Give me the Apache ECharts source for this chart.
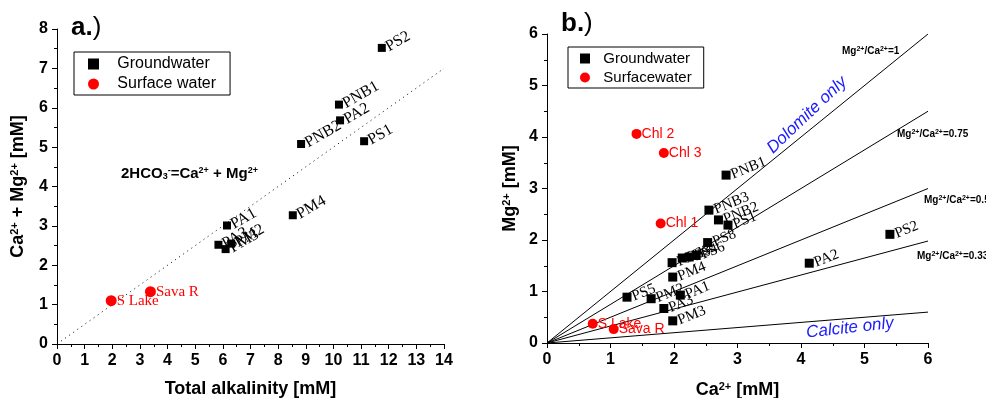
<!DOCTYPE html>
<html>
<head>
<meta charset="utf-8">
<script src="https://cdn.jsdelivr.net/npm/echarts@6/dist/echarts.min.js"></script>
<style>
  html, body { margin: 0; background: #fff; }
  #chart { width: 986px; height: 398px; }
</style>
</head>
<body>
<div id="chart"></div>
<script>
// panel a.) total alkalinity vs Ca2+ + Mg2+
const gwNamesA = ['PS2', 'PNB1', 'PA2', 'PNB2', 'PS1', 'PM4', 'PA1', 'PA3', 'PM3', 'PM2']
const gwAlkA = [11.75, 10.2, 10.24, 8.83, 11.11, 8.53, 6.15, 5.84, 6.1, 6.3]
const gwCaMgA = [7.52, 6.08, 5.68, 5.08, 5.15, 3.27, 3.01, 2.52, 2.41, 2.55]
const swNamesA = ['S Lake', 'Sava R']
const swAlkA = [1.96, 3.38]
const swCaMgA = [1.1, 1.33]
const eqLineA = [[0, 0], [14, 7]] // 2HCO3- = Ca + Mg

// panel b.) Ca2+ vs Mg2+
const gwNamesB = ['PNB1', 'PNB3', 'PNB2', 'PS1', 'PS8', 'PM1', 'PS3', 'PS4', 'PS6',
  'PM4', 'PS5', 'PM2', 'PA1', 'PA3', 'PM3', 'PS2', 'PA2']
const gwCaB = [2.82, 2.55, 2.70, 2.85, 2.53, 1.97, 2.13, 2.24, 2.35,
  1.98, 1.26, 1.64, 2.10, 1.84, 1.98, 5.40, 4.13]
const gwMgB = [3.26, 2.58, 2.39, 2.29, 1.95, 1.56, 1.65, 1.67, 1.70,
  1.28, 0.89, 0.86, 0.93, 0.67, 0.43, 2.11, 1.55]
const swNamesB = ['Chl 2', 'Chl 3', 'Chl 1', 'S Lake', 'Sava R']
const swCaB = [1.41, 1.84, 1.79, 0.72, 1.05]
const swMgB = [4.06, 3.69, 2.32, 0.375, 0.27]
const ratiosB = [1, 0.75, 0.5, 0.33, 0.1]
const ratioLabelsB = ['1', '0.75', '0.5', '0.33']

const SANS = 'Liberation Sans'
const SERIF = 'Liberation Serif'

const pts = (names, xs, ys) => names.map((n, i) => ({ name: n, value: [xs[i], ys[i]] }))

const supRich = (size) => ({
  n: { fontSize: size, fontWeight: 'bold', fontFamily: SANS, color: '#000' },
  s: { fontSize: Math.round(size * 0.6), fontWeight: 'bold', fontFamily: SANS, color: '#000', verticalAlign: 'top' },
  d: { fontSize: Math.round(size * 0.6), fontWeight: 'bold', fontFamily: SANS, color: '#000', verticalAlign: 'bottom' },
})

const axisBase = (min, max) => ({
  type: 'value',
  min,
  max,
  interval: 1,
  axisLine: { show: true, lineStyle: { color: '#000', width: 1 } },
  axisTick: { show: true, inside: false, length: 5, lineStyle: { color: '#000' } },
  minorTick: { show: true, splitNumber: 2, length: 3, lineStyle: { color: '#000' } },
  splitLine: { show: false },
  axisLabel: { fontFamily: SANS, fontWeight: 'bold', fontSize: 16, color: '#000', margin: 9 },
  nameLocation: 'middle',
})

const lineLabel = (r) => '{a|Mg}{s|2+}{a|/Ca}{s|2+}{a|=' + r + '}'
const smallRich = {
  a: { fontSize: 10, fontFamily: SANS, fontWeight: 'bold', color: '#000' },
  s: { fontSize: 7, fontFamily: SANS, fontWeight: 'bold', color: '#000', verticalAlign: 'top' },
}
const ratioLabelPos = [[842, 51], [897, 134], [924, 200], [917, 256]]

const chart = echarts.init(document.getElementById('chart'))

const titleRich = {
  b: { fontSize: 26, fontWeight: 'bold', fontFamily: SANS, color: '#000' },
  n: { fontSize: 26, fontWeight: 'normal', fontFamily: SANS, color: '#000' },
}

const options = {
  backgroundColor: '#fff',
  animation: false,
  title: [
    { text: '{b|a.}{n|)}', left: 66, top: 10, textStyle: { rich: titleRich } },
    { text: '{b|b.}{n|)}', left: 556, top: 6, textStyle: { rich: titleRich } },
  ],
  legend: [
    {
      orient: 'vertical', left: 74, top: 52,
      width: 140,
      padding: [4, 14, 3, 14],
      borderColor: '#000', borderWidth: 1,
      itemWidth: 11, itemHeight: 11, itemGap: 4,
      data: [{ name: 'Groundwater', icon: 'rect' }, { name: 'Surface water', icon: 'circle' }],
      formatter: (n) => '   ' + n,
      itemStyle: { opacity: 1 },
      textStyle: { fontFamily: SANS, fontSize: 16, color: '#000' },
    },
    {
      orient: 'vertical', left: 568, top: 47,
      padding: [4, 12, 3, 12],
      borderColor: '#000', borderWidth: 1,
      itemWidth: 10, itemHeight: 10, itemGap: 4,
      data: [{ name: 'Groundwater', icon: 'rect' }, { name: 'Surfacewater', icon: 'circle' }],
      formatter: (n) => '  ' + n,
      itemStyle: { opacity: 1 },
      textStyle: { fontFamily: SANS, fontSize: 15, color: '#000' },
    },
  ],
  grid: [
    { left: 57, right: 542, top: 29, bottom: 54, containLabel: false, outerBoundsMode: 'none' },
    { left: 547, right: 58, top: 34, bottom: 55, containLabel: false, outerBoundsMode: 'none' },
  ],
  xAxis: [
    Object.assign(axisBase(0, 14), {
      gridIndex: 0, name: 'Total alkalinity [mM]', nameGap: 36,
      nameTextStyle: { fontFamily: SANS, fontWeight: 'bold', fontSize: 18, color: '#000' },
    }),
    Object.assign(axisBase(0, 6), {
      gridIndex: 1, name: '{n|Ca}{s|2+}{n| [mM]}', nameGap: 38,
      nameTextStyle: { rich: supRich(18) },
    }),
  ],
  yAxis: [
    Object.assign(axisBase(0, 8), {
      gridIndex: 0, name: '{n|Ca}{s|2+}{n| + Mg}{s|2+}{n| [mM]}', nameGap: 30,
      nameTextStyle: { rich: supRich(18) },
    }),
    Object.assign(axisBase(0, 6), {
      gridIndex: 1, name: '{n|Mg}{s|2+}{n| [mM]}', nameGap: 28,
      nameTextStyle: { rich: supRich(18) },
    }),
  ],
  graphic: [
    {
      type: 'text', left: 121, top: 166,
      style: {
        text: '{n|2HCO}{d|3}{s|-}{n|=Ca}{s|2+}{n| + Mg}{s|2+}',
        rich: supRich(15),
      },
    },
    {
      type: 'text', x: 807, y: 115, rotation: 0.76,
      style: { text: 'Dolomite only', fill: '#1a1aff', font: 'italic 17px "Liberation Sans"',
        align: 'center', verticalAlign: 'middle' },
    },
    {
      type: 'text', x: 850, y: 328, rotation: 0.11,
      style: { text: 'Calcite only', fill: '#1a1aff', font: 'italic 17px "Liberation Sans"',
        align: 'center', verticalAlign: 'middle' },
    },
    ...ratioLabelsB.map((r, i) => ({
      type: 'text', x: ratioLabelPos[i][0], y: ratioLabelPos[i][1],
      style: { text: lineLabel(r), rich: smallRich, verticalAlign: 'middle' },
    })),
  ],
  series: [
    {
      type: 'line', xAxisIndex: 0, yAxisIndex: 0, data: eqLineA, symbol: 'none', silent: true,
      lineStyle: { color: '#000', width: 1, type: [1, 4] }, z: 1,
    },
    {
      name: 'Groundwater', type: 'scatter', xAxisIndex: 0, yAxisIndex: 0,
      data: pts(gwNamesA, gwAlkA, gwCaMgA), symbol: 'rect', symbolSize: 8,
      itemStyle: { color: '#000', opacity: 1 },
      label: { show: true, position: 'right', distance: 1, rotate: 30, formatter: '{b}',
        fontFamily: SERIF, fontSize: 16, color: '#000' },
      z: 3,
    },
    {
      name: 'Surface water', type: 'scatter', xAxisIndex: 0, yAxisIndex: 0,
      data: pts(swNamesA, swAlkA, swCaMgA), symbol: 'circle', symbolSize: 11,
      itemStyle: { color: '#ff0000', opacity: 1 },
      label: { show: true, position: 'right', distance: 0, formatter: '{b}',
        fontFamily: SERIF, fontSize: 15, color: '#ff0000' },
      z: 3,
    },
    ...ratiosB.map((r) => ({
      type: 'line', xAxisIndex: 1, yAxisIndex: 1, data: [[0, 0], [6, 6 * r]], symbol: 'none', silent: true,
      lineStyle: { color: '#000', width: 1 }, z: 1,
    })),
    {
      name: 'Groundwater', type: 'scatter', xAxisIndex: 1, yAxisIndex: 1,
      data: pts(gwNamesB, gwCaB, gwMgB), symbol: 'rect', symbolSize: 9,
      itemStyle: { color: '#000', opacity: 1 },
      label: { show: true, position: 'right', distance: 1, rotate: 22, formatter: '{b}',
        fontFamily: SERIF, fontSize: 15, color: '#000' },
      z: 3,
    },
    {
      name: 'Surfacewater', type: 'scatter', xAxisIndex: 1, yAxisIndex: 1,
      data: pts(swNamesB, swCaB, swMgB), symbol: 'circle', symbolSize: 10,
      itemStyle: { color: '#ff0000', opacity: 1 },
      label: { show: true, position: 'right', distance: 0, formatter: '{b}',
        fontFamily: SANS, fontSize: 14, color: '#ff0000' },
      z: 3,
    },
  ],
}
chart.setOption(options)
</script>
</body>
</html>
